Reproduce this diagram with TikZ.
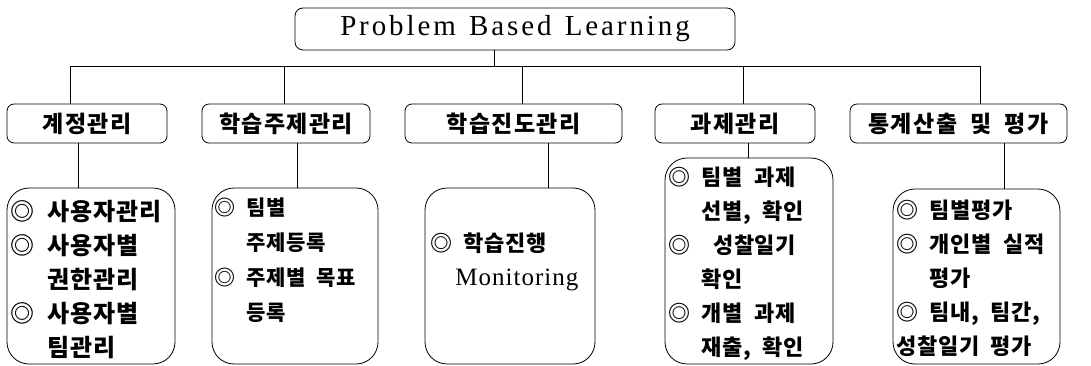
\documentclass[tikz,border=0pt]{standalone}
\usepackage{fontspec}
\setmainfont{Liberation Serif}
\newfontfamily\titlefont{Liberation Serif}[LetterSpace=10,WordSpace=1.3]
\newfontfamily\wordfont{Liberation Serif}[LetterSpace=4]
\newfontfamily\kor{Noto Sans CJK KR}[LetterSpace=3,WordSpace=2]
\newfontfamily\korbig{Noto Sans CJK KR}[LetterSpace=4,WordSpace=2]
\newfontfamily\korhead{Noto Sans CJK KR}[LetterSpace=6,WordSpace=2]
\usetikzlibrary{positioning}

% indent under a bullet
\newcommand{\ind}{\phantom{◎}\ }

\begin{document}
\begin{tikzpicture}[x=1pt,y=-1pt,
  line width=0.8pt,
  titlebox/.style={draw, rounded corners=8pt, minimum width=440pt, minimum height=42pt, inner sep=0pt,
    font=\titlefont\fontsize{29}{29}\selectfont},
  headbox/.style={draw, rounded corners=7pt, minimum height=39pt, inner sep=0pt,
    font=\korhead\bfseries\fontsize{23}{23}\selectfont},
  cardbox/.style={draw, rounded corners=22pt, inner sep=0pt},
  itemtext/.style={anchor=north west, inner sep=0pt, align=left,
    font=\kor\bfseries\fontsize{22}{34}\selectfont}
]
\useasboundingbox (0,0) rectangle (1091,366);

% Title
\node[titlebox] (pbl) at (515,29) {Problem Based Learning};

% Headers
\node[headbox, minimum width=160pt] (h1) at (87,123.5) {계정관리};
\node[headbox, minimum width=168pt] (h2) at (286,123.5) {학습주제관리};
\node[headbox, minimum width=217pt] (h3) at (513.5,123.5) {학습진도관리};
\node[headbox, minimum width=160pt] (h4) at (735,123.5) {과제관리};
\node[headbox, minimum width=217pt] (h5) at (958.5,123.5) {통계산출 및 평가};

% Cards
\node[cardbox, minimum width=168pt, minimum height=176pt] (c1) at (91,276) {};
\node[cardbox, minimum width=166pt, minimum height=176pt] (c2) at (295,276) {};
\node[cardbox, minimum width=170pt, minimum height=176pt] (c3) at (510,276) {};
\node[cardbox, minimum width=168pt, minimum height=206pt] (c4) at (749,261) {};
\node[cardbox, minimum width=167pt, minimum height=175pt] (c5) at (976.5,276.5) {};

% Card texts
\node[itemtext, font=\korbig\bfseries\fontsize{24}{34}\selectfont] (t1) at (10,200)
  {◎ 사용자관리\\◎ 사용자별\\\ind 권한관리\\◎ 사용자별\\\ind 팀관리};
\node[itemtext, font=\kor\bfseries\fontsize{21}{35}\selectfont] (t2) at (214,197)
  {◎ 팀별\\\ind 주제등록\\◎ 주제별 목표\\\ind 등록};
\node[itemtext] (t3) at (430,232)
  {◎ 학습진행\\\hspace*{25pt}{\wordfont\mdseries\fontsize{25}{34}\selectfont Monitoring}};
\node[itemtext] (t4) at (668,167)
  {◎ 팀별 과제\\\ind 선별, 확인\\◎ \ 성찰일기\\\ind 확인\\◎ 개별 과제\\\ind 재출, 확인};
\node[itemtext] (t5) at (896,200)
  {◎ 팀별평가\\◎ 개인별 실적\\\ind 평가\\◎ 팀내, 팀간,\\성찰일기 평가};

% Bus line
\coordinate (top) at (494,66);
\coordinate (b1) at (70,66);
\coordinate (b2) at (284,66);
\coordinate (b3) at (522,66);
\coordinate (b4) at (743,66);
\coordinate (b5) at (980,66);
\draw (pbl.south -| top) -- (top);
\draw (b1) -- (b5);
\foreach \i in {1,...,5}
  \draw (b\i) -- (b\i |- h\i.north);

% Header to card
\coordinate (d1) at (78,0);
\coordinate (d2) at (297,0);
\coordinate (d3) at (548,0);
\coordinate (d4) at (748,0);
\coordinate (d5) at (1004,0);
\foreach \i in {1,...,5}
  \draw (h\i.south -| d\i) -- (c\i.north -| d\i);

\end{tikzpicture}
\end{document}
